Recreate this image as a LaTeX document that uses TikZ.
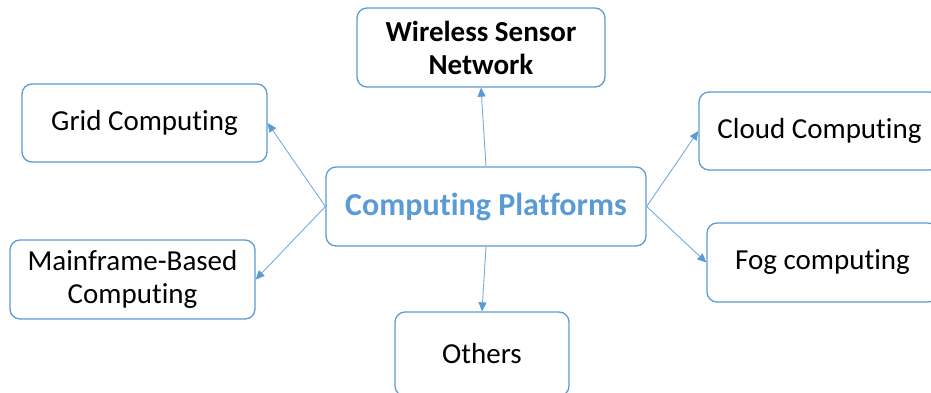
\documentclass[tikz,border=0pt]{standalone}
\usepackage{fontspec}
\setmainfont[Ligatures=NoCommon]{Carlito}
\usetikzlibrary{arrows.meta}
\definecolor{accent}{RGB}{91,155,213}
\definecolor{linkblue}{RGB}{120,170,222}
\tikzset{
  box/.style={draw=accent, line width=1.3pt, rounded corners=10pt, fill=white,
    align=center, inner sep=0pt, font=\fontsize{29}{33}\selectfont},
  hub/.style={box, font=\fontsize{32}{36}\selectfont\bfseries, text=accent},
  link/.style={draw=linkblue, line width=0.9pt,
    -{Triangle[length=9pt,width=8pt,fill=accent,color=accent]}}
}
\begin{document}
\begin{tikzpicture}[x=1pt,y=-1pt]
  \useasboundingbox (0,0) rectangle (931,392);
  \clip (0,0) rectangle (931,392);
  % central node and the surrounding platforms
  \node[hub, minimum width=320pt, minimum height=79pt] (c) at (486,206.5) {Computing Platforms};
  \node[box, font=\fontsize{29}{33}\selectfont\bfseries, minimum width=248pt, minimum height=79pt] (wsn) at (481,47.5) {Wireless Sensor\\Network};
  \node[box, minimum width=245pt, minimum height=78pt] (grid) at (144.5,123) {Grid Computing};
  \node[box, minimum width=245pt, minimum height=79pt] (mf) at (132.5,279.5) {Mainframe-Based\\Computing};
  \node[box, minimum width=241pt, minimum height=78pt] (cloud) at (819.5,131) {Cloud Computing};
  \node[box, minimum width=231pt, minimum height=79pt] (fog) at (822.5,262.5) {Fog computing};
  \node[box, minimum width=174pt, minimum height=84pt] (oth) at (482,354) {Others};
  % connectors from the hub
  \draw[link] (c.north) -- (wsn.south);
  \draw[link] (c.west) -- (grid.east);
  \draw[link] (c.west) -- (mf.east);
  \draw[link] (c.east) -- (cloud.west);
  \draw[link] (c.east) -- (fog.west);
  \draw[link] (c.south) -- (oth.north);
\end{tikzpicture}
\end{document}
